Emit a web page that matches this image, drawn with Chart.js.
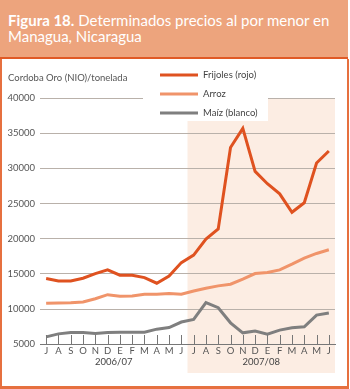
<!DOCTYPE html>
<html lang="es">
<head>
  <meta charset="UTF-8" />
  <title>Figura 18 – Precios al por menor, Managua</title>
  <script src="https://cdn.jsdelivr.net/npm/chart.js"></script>
  <style>
    body {
      margin: 0;
      padding: 0;
      width: 350px;
      height: 389px;
      position: relative;
      overflow: hidden;
      background: white;
      font-family: Lato, sans-serif;
    }

    .marco {
      position: absolute;
      top: 59px;
      left: 0;
      width: 349px;
      height: 330px;
      box-sizing: border-box;
      border: 2px solid #e6703f;
      border-top: none;
      border-bottom-width: 3px;
    }

    canvas {
      position: absolute;
      top: 0;
      left: 0;
    }

    .cabecera {
      position: absolute;
      top: 0;
      left: 0;
      width: 348px;
      height: 59px;
      padding: 12px 0 0 8px;
      box-sizing: border-box;
      background-color: #eda47d;
      border-bottom: 2px solid #e05a26;
      color: white;
      font-size: 15px;
      line-height: 16px;
    }
  </style>
</head>
<body>

  <div class="marco"></div>
  <canvas id="preciosChart" width="350" height="389"></canvas>
  <div class="cabecera"><b>Figura 18.</b> Determinados precios al por menor en<br>Managua, Nicaragua</div>

  <script>
    // meses (jul 2006 – jun 2008)
    const meses = ['J', 'A', 'S', 'O', 'N', 'D', 'E', 'F', 'M', 'A', 'M', 'J',
                   'J', 'A', 'S', 'O', 'N', 'D', 'E', 'F', 'M', 'A', 'M', 'J'];
    const campanas = ['2006/07', '2007/08'];
    const ticksY = [5000, 10000, 15000, 20000, 25000, 30000, 35000, 40000];

    const frijoles = [14330, 14000, 14000, 14380, 15040, 15570, 14810, 14800, 14470, 13670, 14700, 16600,
                      17670, 19950, 21380, 32960, 35670, 29570, 27810, 26380, 23760, 25100, 30760, 32470];
    const arroz = [10810, 10870, 10900, 11000, 11470, 12040, 11810, 11860, 12100, 12100, 12190, 12100,
                   12570, 12960, 13290, 13530, 14240, 15040, 15190, 15570, 16380, 17240, 17900, 18430];
    const maiz = [6040, 6470, 6670, 6670, 6530, 6670, 6700, 6700, 6700, 7140, 7360, 8150,
                  8530, 10900, 10190, 8040, 6620, 6860, 6430, 7000, 7330, 7470, 9140, 9430];

    const fuente = 'Lato, sans-serif';

    // sombreado 2007/08, marcas del eje x, título del eje y y leyenda
    const extras = {
      id: 'extras',
      beforeDraw(chart) {
        const { ctx, chartArea, scales } = chart;
        const x0 = (scales.x.getPixelForValue(11) + scales.x.getPixelForValue(12)) / 2;
        ctx.save();
        ctx.fillStyle = '#fcede3';
        ctx.fillRect(x0, chartArea.top, chartArea.right - x0, 373 - chartArea.top);
        ctx.restore();
      },
      afterDraw(chart) {
        const { ctx, chartArea, scales } = chart;
        ctx.save();
        ctx.fillStyle = '#777';
        for (let i = 0; i < meses.length; i++) {
          const x = Math.round(scales.x.getPixelForValue(i));
          ctx.fillRect(x, Math.round(chartArea.bottom) - 9, 1, 9);
        }

        ctx.fillStyle = '#555';
        ctx.font = '9.5px ' + fuente;
        ctx.textBaseline = 'middle';
        ctx.fillText('Cordoba Oro (NIO)/tonelada', 8, 78);

        ctx.fillStyle = 'white';
        ctx.fillRect(143, 62, 125, 59);
        chart.data.datasets.forEach((ds, i) => {
          const y = 75 + i * 19;
          ctx.strokeStyle = ds.borderColor;
          ctx.lineWidth = 3;
          ctx.beginPath();
          ctx.moveTo(160, y);
          ctx.lineTo(198, y);
          ctx.stroke();
          ctx.fillStyle = '#444';
          ctx.fillText(ds.label, 203, y);
        });
        ctx.restore();
      }
    };

    const chart = new Chart(document.getElementById('preciosChart'), {
      type: 'line',
      data: {
        labels: meses,
        datasets: [
          { label: 'Frijoles (rojo)', data: frijoles, borderColor: '#df5220' },
          { label: 'Arroz', data: arroz, borderColor: '#f0946a' },
          { label: 'Maíz (blanco)', data: maiz, borderColor: '#7f7f7f' }
        ]
      },
      options: {
        responsive: false,
        animation: false,
        layout: { padding: { top: 98, right: 15, bottom: 22, left: 0 } },
        elements: {
          line: { borderWidth: 3, tension: 0 },
          point: { radius: 0 }
        },
        plugins: {
          legend: { display: false },
          tooltip: { enabled: false }
        },
        scales: {
          x: {
            offset: true,
            grid: { display: false, drawTicks: false },
            border: { color: '#777' },
            ticks: { padding: 1, maxRotation: 0, autoSkip: false, color: '#555', font: { family: fuente, size: 9.5 } }
          },
          x2: {
            type: 'category',
            labels: campanas,
            position: 'bottom',
            offset: true,
            grid: { display: false, drawTicks: false },
            border: { display: false },
            ticks: { padding: -1, color: '#444', font: { family: fuente, size: 9.5 } }
          },
          y: {
            min: ticksY[0],
            max: ticksY[ticksY.length - 1],
            afterBuildTicks: s => { s.ticks = ticksY.map(v => ({ value: v })); },
            grid: { color: '#b9b1aa', drawTicks: false },
            border: { display: false },
            ticks: { padding: 5, color: '#555', font: { family: fuente, size: 9.5 }, callback: v => String(v) },
            afterFit: s => { s.width = 40; }
          }
        }
      },
      plugins: [extras]
    });
  </script>
</body>
</html>
